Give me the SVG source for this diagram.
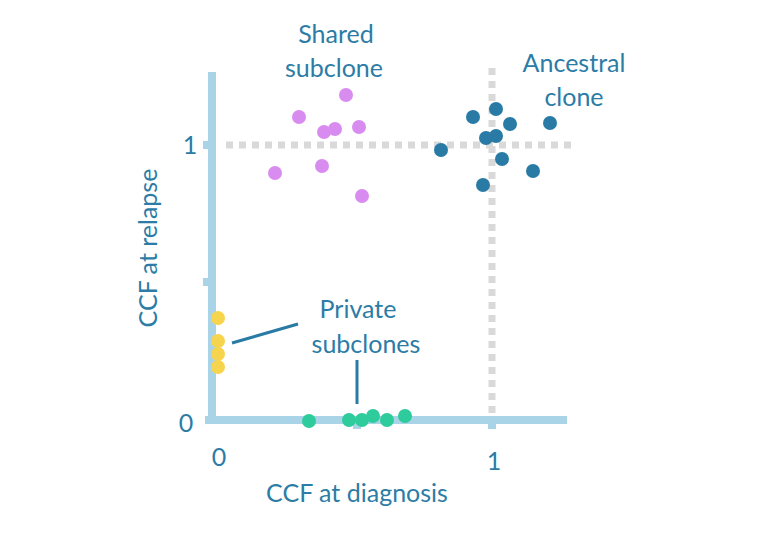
<svg xmlns="http://www.w3.org/2000/svg" width="762" height="534" viewBox="0 0 762 534">
<style>
.t{font-family:Lato,"Open Sans",sans-serif;font-size:25px;fill:#2c7ca6;text-anchor:middle}
.ax{stroke:#a9d4e8;stroke-width:8;fill:none}
.dot{stroke:#d9d9d9;stroke-width:7;stroke-dasharray:7,6;fill:none}
.p{fill:#d98cf0}.b{fill:#2a7aa6}.y{fill:#f6d44d}.g{fill:#2ecc9c}
.ln{stroke:#2a7aa6;stroke-width:3}
</style>
<rect width="762" height="534" fill="#fff"/>
<g id="axes">
<line class="ax" x1="212" y1="72" x2="212" y2="424"/>
<line class="ax" x1="205" y1="420" x2="567" y2="420"/>
<line class="ax" x1="203" y1="145" x2="212" y2="145"/>
<line class="ax" x1="203" y1="282" x2="212" y2="282"/>
<line class="ax" x1="357" y1="420" x2="357" y2="429"/>
<line class="ax" x1="492" y1="420" x2="492" y2="429"/>
<text class="t" x="190" y="154">1</text>
<text class="t" x="186" y="432">0</text>
<text class="t" x="219" y="466">0</text>
<text class="t" x="494" y="470">1</text>
<text class="t" x="357" y="502">CCF at diagnosis</text>
<text class="t" transform="translate(157,248) rotate(-90)">CCF at relapse</text>
</g>
<g id="guides">
<line class="dot" x1="226" y1="145" x2="572" y2="145"/>
<line class="dot" x1="492" y1="68" x2="492" y2="416"/>
</g>
<g id="connectors">
<line class="ln" x1="232" y1="343" x2="298" y2="324"/>
<line class="ln" x1="357" y1="360" x2="357" y2="404"/>
</g>
<g id="shared">
<circle class="p" cx="299" cy="117" r="7"/><circle class="p" cx="346" cy="95" r="7"/>
<circle class="p" cx="324" cy="132" r="7"/><circle class="p" cx="335" cy="129" r="7"/>
<circle class="p" cx="359" cy="127" r="7"/><circle class="p" cx="275" cy="173" r="7"/>
<circle class="p" cx="322" cy="166" r="7"/><circle class="p" cx="362" cy="196" r="7"/>
<text class="t" x="336" y="43">Shared</text><text class="t" x="334" y="77">subclone</text>
</g>
<g id="ancestral">
<circle class="b" cx="473" cy="117" r="7"/><circle class="b" cx="496" cy="109" r="7"/>
<circle class="b" cx="510" cy="124" r="7"/><circle class="b" cx="550" cy="123" r="7"/>
<circle class="b" cx="441" cy="150" r="7"/><circle class="b" cx="486" cy="138" r="7"/>
<circle class="b" cx="496" cy="136" r="7"/><circle class="b" cx="502" cy="159" r="7"/>
<circle class="b" cx="483" cy="185" r="7"/><circle class="b" cx="533" cy="171" r="7"/>
<text class="t" x="574" y="72">Ancestral</text><text class="t" x="574" y="106">clone</text>
</g>
<g id="private">
<circle class="y" cx="218" cy="318" r="7"/><circle class="y" cx="218" cy="341" r="7"/>
<circle class="y" cx="218" cy="354" r="7"/><circle class="y" cx="218" cy="367" r="7"/>
<circle class="g" cx="309" cy="421" r="7"/><circle class="g" cx="349" cy="420" r="7"/>
<circle class="g" cx="362" cy="420" r="7"/><circle class="g" cx="373" cy="416" r="7"/>
<circle class="g" cx="387" cy="420" r="7"/><circle class="g" cx="405" cy="416" r="7"/>
<text class="t" x="358" y="318">Private</text><text class="t" x="366" y="353">subclones</text>
</g>
</svg>
